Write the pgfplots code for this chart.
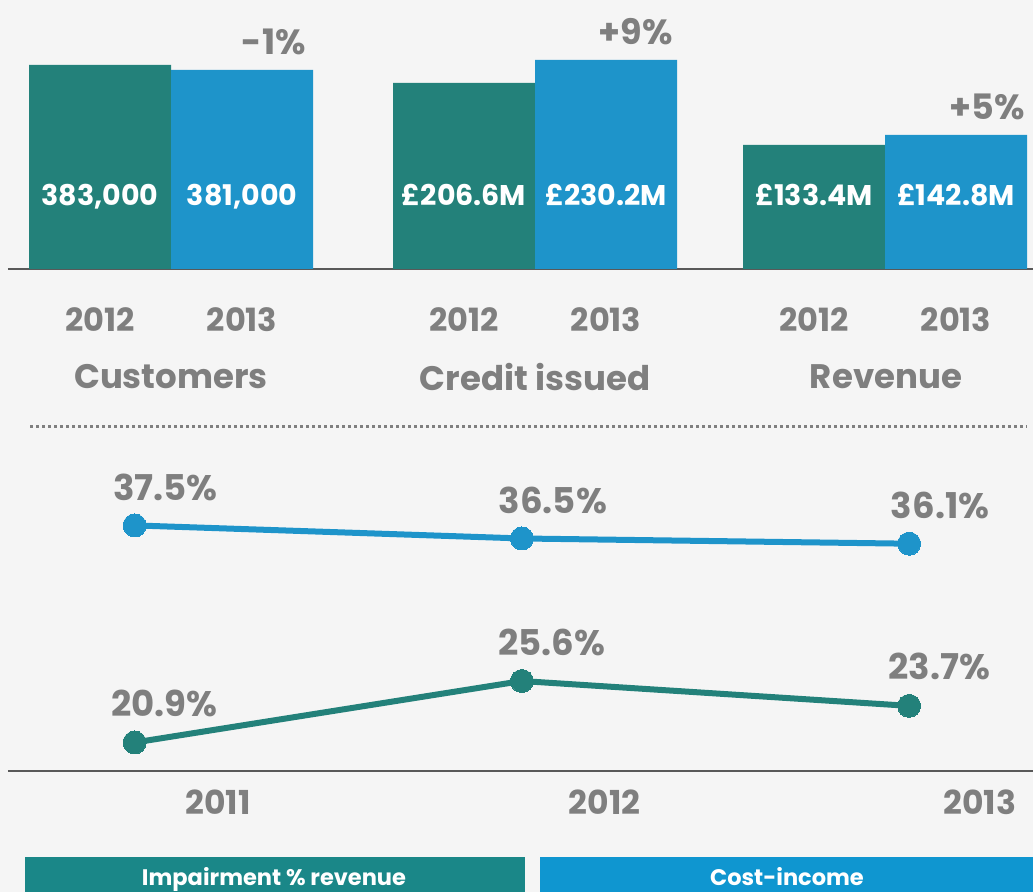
\documentclass[border=0pt]{standalone}
\usepackage{fontspec}
\setmainfont{Poppins}
\usepackage{pgfplots}
\pgfplotsset{compat=1.18}
\definecolor{bgcol}{HTML}{F5F5F5}
\definecolor{tealbar}{HTML}{23817A}
\definecolor{bluebar}{HTML}{1E94CA}
\definecolor{tealkey}{HTML}{1A8788}
\definecolor{bluekey}{HTML}{0F96D0}
\definecolor{txtgrey}{HTML}{7F7F7F}
\definecolor{axgrey}{HTML}{595959}
\newcommand\fs[1]{\fontsize{#1}{#1}\selectfont\bfseries}

% bar heights are drawn heights (each group on its own scale)
\pgfplotstableread{
x h
100 204
464 186
814 124
}\barsA
\pgfplotstableread{
x h
242 199
606 209
956 134
}\barsB

\begin{document}
\begin{tikzpicture}
\fill[bgcol] (0pt,0pt) rectangle (1033pt,892pt);
\useasboundingbox (0pt,0pt) rectangle (1033pt,892pt);

% --- top: bars ---
\begin{axis}[
    at={(8pt,623pt)}, anchor=south west, scale only axis,
    width=1025pt, height=269pt,
    xmin=8, xmax=1033, ymin=0, ymax=269,
    hide y axis, axis x line*=bottom,
    axis line style={draw=axgrey, line width=2pt, -},
    xtick={100,242,464,606,814,956},
    xticklabels={2012,2013,2012,2013,2012,2013},
    major tick length=0pt,
    xticklabel style={anchor=center, yshift=-51pt, font=\fs{32}, text=txtgrey},
    clip=false,
]
\addplot[ybar, bar width=142, bar shift=0pt, fill=tealbar, draw=none] table[x=x,y=h] {\barsA};
\addplot[ybar, bar width=142, bar shift=0pt, fill=bluebar, draw=none] table[x=x,y=h] {\barsB};
% value labels inside bars
\addplot[draw=none, mark=none, nodes near coords, point meta=explicit symbolic,
    every node near coord/.style={anchor=base, text=white, font=\fs{28.5}, inner sep=0pt}]
  coordinates {(100,63)[383,000] (242,63)[381,000] (464,63)[£206.6M]
               (606,63)[£230.2M] (814,63)[£133.4M] (956,63)[£142.8M]};
% change labels
\addplot[draw=none, mark=none, nodes near coords, point meta=explicit symbolic,
    every node near coord/.style={anchor=east, text=txtgrey, font=\fs{35}, inner sep=0pt}]
  coordinates {(306,227)[-1\%] (673,237)[+9\%] (1025,162)[+5\%]};
\node[font=\fs{34}, text=txtgrey] at (axis cs:171,-108) {Customers};
\node[font=\fs{34}, text=txtgrey] at (axis cs:535,-108) {Credit issued};
\node[font=\fs{34}, text=txtgrey] at (axis cs:886,-108) {Revenue};
\end{axis}

% dotted separator
\draw[txtgrey, line width=3pt, dash pattern=on 2.6pt off 3.4pt] (30pt,465pt) -- (1027pt,465pt);

% --- bottom: lines ---
\begin{axis}[
    at={(8pt,121pt)}, anchor=south west, scale only axis,
    width=1025pt, height=331pt,
    xmin=2010.673, xmax=2013.32, ymin=18.72, ymax=44.03,
    hide y axis, axis x line*=bottom,
    axis line style={draw=axgrey, line width=2pt, -},
    xtick={2011.215,2012.214,2013.183},
    xticklabels={2011,2012,2013},
    major tick length=0pt,
    xticklabel style={anchor=center, yshift=-31pt, font=\fs{33}, text=txtgrey},
    clip=false,
]
\addplot[bluebar, line width=6pt, mark=*, mark size=11.5pt,
    mark options={line width=0pt, fill=bluebar},
    nodes near coords, point meta=explicit symbolic,
    every node near coord/.style={anchor=center, xshift=31pt, yshift=38pt,
        text=txtgrey, font=\fs{35.5}, inner sep=0pt}]
  coordinates {(2011,37.5)[37.5\%] (2012,36.5)[36.5\%] (2013,36.1)[36.1\%]};
\addplot[tealbar, line width=6pt, mark=*, mark size=11.5pt,
    mark options={line width=0pt, fill=tealbar},
    nodes near coords, point meta=explicit symbolic,
    every node near coord/.style={anchor=center, xshift=30pt, yshift=39pt,
        text=txtgrey, font=\fs{35.5}, inner sep=0pt}]
  coordinates {(2011,20.9)[20.9\%] (2012,25.6)[25.6\%] (2013,23.7)[23.7\%]};
\end{axis}

% key boxes
\fill[tealkey] (25pt,0pt) rectangle (525pt,35pt);
\fill[bluekey] (540pt,0pt) rectangle (1033pt,35pt);
\node[anchor=base, text=white, font=\fs{22.5}, inner sep=0pt] at (274pt,7pt) {Impairment \% revenue};
\node[anchor=base, text=white, font=\fs{22.5}, inner sep=0pt] at (787pt,7pt) {Cost-income};
\end{tikzpicture}
\end{document}
